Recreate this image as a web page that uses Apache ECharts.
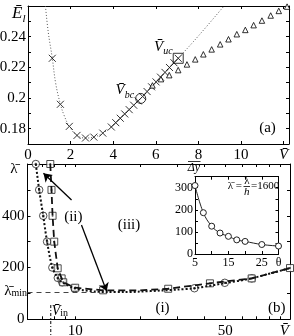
<!DOCTYPE html>
<html><head><meta charset="utf-8">
<script src="https://cdn.jsdelivr.net/npm/echarts@6/dist/echarts.min.js"></script>
<style>html,body{margin:0;padding:0;background:#fff}#c{width:294px;height:336px}</style>
</head><body><div id="c"></div>
<script>
const FONT = 'Liberation Serif';
// ---------- Panel (a) ----------
const curveV = [0.82, 0.95, 1.14, 1.3, 1.52, 1.7, 1.94, 2.3, 2.7, 3.09, 3.51, 3.91, 4.5, 5.29, 6.0, 7.05, 8.0, 9.2];
const curveE = [0.26, 0.243, 0.226, 0.2095, 0.196, 0.1885, 0.1815, 0.1756, 0.1739, 0.1745, 0.1771, 0.1811, 0.1893, 0.1997, 0.2102, 0.2259, 0.2405, 0.26];
const crossV = [1.14, 1.52, 1.94, 2.30, 2.70, 3.09, 3.51, 3.91, 4.12, 4.33, 4.54, 4.75, 4.96, 5.17, 5.38, 5.59, 5.80, 6.01, 6.22, 6.43, 6.64, 6.85, 7.05];
const crossE = [0.2259, 0.1959, 0.1815, 0.1756, 0.1739, 0.1745, 0.1771, 0.1811, 0.1839, 0.1868, 0.1896, 0.1924, 0.1953, 0.1981, 0.2010, 0.2042, 0.2073, 0.2105, 0.2136, 0.2167, 0.2199, 0.2230, 0.2259];
const triV = [5.84, 6.24, 6.63, 7.05, 7.46, 7.85, 8.23, 8.62, 9.02, 9.41, 9.8, 10.2, 10.59, 10.98, 11.39, 11.77, 12.16];
const triE = [0.2082, 0.2123, 0.2149, 0.2182, 0.2219, 0.2252, 0.2285, 0.2317, 0.235, 0.2383, 0.2416, 0.2444, 0.2475, 0.2505, 0.2538, 0.2568, 0.2596];
const bcPoint = [5.29, 0.1997];
const ucPoint = [7.05, 0.2259];
// ---------- Panel (b) ----------
const circLineV = [6.56, 6.8, 7.1, 7.4, 7.83, 8.3, 8.71, 9.3, 9.93, 11, 12.5, 14, 17, 20, 25, 30, 36, 50, 66, 100];
const circLineL = [600, 500, 400, 300, 200, 160, 143, 130, 120, 112, 107, 105, 105, 107, 111, 115, 120, 140, 158, 198];
const circV = [6.56, 6.8, 7.1, 7.4, 7.83, 8.3, 8.71, 9.93, 35.9, 49.7, 66.4];
const circL = [600, 500, 400, 300, 200, 160, 143, 120, 120, 141, 158];
const sqLineV = [7.66, 7.76, 7.85, 7.99, 8.29, 8.65, 8.8, 10.0, 13.5, 20, 27.1, 42.4, 66.3, 100];
const sqLineL = [600, 500, 400, 300, 197, 158, 143, 122, 112, 112, 118, 139, 158, 198];
const sqV = [7.66, 7.76, 7.85, 7.99, 8.29, 8.65, 8.8, 10.0, 13.5, 27.1, 42.4, 66.3, 100];
const sqL = [600, 500, 400, 300, 197, 158, 143, 122, 112, 118, 139, 158, 198];
const lambdaMin = 105;
const lambdaMinSpan = [6, 13];
const vIn = 7.7;
const arrow1 = [[9.62, 461], [7.12, 564]];
const arrow2 = [[10.7, 364], [14.0, 109]];
const bXTickValues = [7, 8, 9, 10, 20, 30, 40, 50, 60, 70, 80, 90];
const bXLabelValues = [10, 50, 94];
const bYLabels = [0, 200, 400];
// ---------- Inset ----------
const thetaV = [5, 7.5, 10, 12.5, 15, 17.5, 20, 25, 30];
const dyV = [310, 187, 126, 95, 80, 64, 57, 43, 36];

const zip = (a, b) => a.map((v, i) => [v, b[i]]);
const black = '#000';
function ax(extra) {
  const base = {
    axisLine: { show: true, onZero: false, lineStyle: { color: black, width: 1 } },
    axisTick: { show: true, inside: true, length: 3, lineStyle: { color: black } },
    splitLine: { show: false },
    axisLabel: { color: black, fontFamily: FONT, fontSize: 15 }
  };
  const o = Object.assign({}, base, extra);
  o.axisTick = Object.assign({}, base.axisTick, extra.axisTick || {});
  o.axisLabel = Object.assign({}, base.axisLabel, extra.axisLabel || {});
  return o;
}
const vbarRich = { v: { fontStyle: 'italic', fontFamily: FONT, fontSize: 15, color: black } };

const option = {
  animation: false,
  backgroundColor: '#fff',
  grid: [
    { left: 28, top: 6, right: 5, bottom: 192, outerBoundsMode: 'none', containLabel: false },
    { left: 27.5, top: 164, right: 4, bottom: 16.7, outerBoundsMode: 'none', containLabel: false },
    { left: 195, top: 176.7, right: 15.5, bottom: 82, outerBoundsMode: 'none', containLabel: false, show: true, backgroundColor: '#fff', borderWidth: 0, z: 5 }
  ],
  xAxis: [
    ax({ gridIndex: 0, type: 'value', min: 0, max: 12.25, interval: 2, position: 'bottom',
      axisLabel: { margin: 4, rich: vbarRich, showMaxLabel: true,
        formatter: v => v === 12 ? '{v|V\u0304}' : (v % 2 === 0 && v <= 10 ? String(v) : '') } }),
    ax({ gridIndex: 0, type: 'value', min: 0, max: 12.25, interval: 2, position: 'top', axisLabel: { show: false } }),
    ax({ gridIndex: 1, type: 'log', logBase: 10, min: 6, max: 100, position: 'bottom',
      axisTick: { customValues: bXTickValues },
      axisLabel: { margin: 4, rich: vbarRich, customValues: bXLabelValues,
        formatter: v => Math.abs(v - 10) < 0.01 ? '10' : (Math.abs(v - 50) < 0.01 ? '50' : '{v|V\u0304}') } }),
    ax({ gridIndex: 1, type: 'log', logBase: 10, min: 6, max: 100, position: 'top',
      axisTick: { customValues: bXTickValues }, axisLabel: { show: false } }),
    ax({ gridIndex: 2, type: 'value', min: 5, max: 30, interval: 5, position: 'bottom', z: 6,
      axisLabel: { fontSize: 12, margin: 3,
        formatter: v => (v === 5 || v === 15 || v === 25) ? String(v) : (v === 30 ? '\u03b8' : '') } }),
    ax({ gridIndex: 2, type: 'value', min: 5, max: 30, interval: 5, position: 'top', z: 6, axisLabel: { show: false } })
  ],
  yAxis: [
    ax({ gridIndex: 0, type: 'value', min: 0.17, max: 0.26, interval: 0.01, position: 'left',
      axisLabel: { margin: 2, formatter: v => { const k = Math.round(v * 100); return (k % 2 === 0 && k >= 18 && k <= 24) ? String(k / 100) : ''; } } }),
    ax({ gridIndex: 0, type: 'value', min: 0.17, max: 0.26, interval: 0.01, position: 'right', axisLabel: { show: false } }),
    ax({ gridIndex: 1, type: 'value', min: 0, max: 600, interval: 100, position: 'left',
      axisLabel: { margin: 3, formatter: v => bYLabels.includes(v) ? String(v) : '' } }),
    ax({ gridIndex: 1, type: 'value', min: 0, max: 600, interval: 100, position: 'right', axisLabel: { show: false } }),
    ax({ gridIndex: 2, type: 'value', min: 0, max: 350, interval: 50, position: 'left', z: 6,
      axisLabel: { fontSize: 12, margin: 2, formatter: v => (v % 100 === 0 && v <= 300) ? String(v) : '' } }),
    ax({ gridIndex: 2, type: 'value', min: 0, max: 350, interval: 50, position: 'right', z: 6, axisLabel: { show: false } })
  ],
  series: [
    { type: 'line', xAxisIndex: 0, yAxisIndex: 0, data: zip(curveV, curveE), smooth: 0.4, showSymbol: false,
      lineStyle: { color: '#555', width: 1, type: [1, 2] }, silent: true },
    { type: 'scatter', xAxisIndex: 0, yAxisIndex: 0, data: zip(crossV, crossE), symbol: 'path://M0,0L10,10M10,0L0,10', symbolSize: 7,
      itemStyle: { color: 'rgba(0,0,0,0)', borderColor: black, borderWidth: 1 }, silent: true },
    { type: 'scatter', xAxisIndex: 0, yAxisIndex: 0, data: zip(triV, triE), symbol: 'triangle', symbolSize: 5.5,
      itemStyle: { color: '#fff', borderColor: black, borderWidth: 1 }, silent: true },
    { type: 'scatter', xAxisIndex: 0, yAxisIndex: 0, data: [bcPoint], symbol: 'circle', symbolSize: 10, z: 3,
      itemStyle: { color: 'rgba(0,0,0,0)', borderColor: black, borderWidth: 1 }, silent: true },
    { type: 'scatter', xAxisIndex: 0, yAxisIndex: 0, data: [ucPoint], symbol: 'rect', symbolSize: 10, z: 3,
      itemStyle: { color: 'rgba(0,0,0,0)', borderColor: black, borderWidth: 1 }, silent: true },
    { type: 'line', xAxisIndex: 2, yAxisIndex: 2, data: zip(circLineV, circLineL), smooth: 0.3, showSymbol: false,
      lineStyle: { color: '#111', width: 2, type: [2, 2] }, silent: true,
      markLine: { silent: true, animation: false, label: { show: false }, symbolSize: 8,
        lineStyle: { color: black, width: 1.3, type: 'solid' },
        data: [
          [{ coord: arrow1[0], symbol: 'none' }, { coord: arrow1[1], symbol: 'arrow' }],
          [{ coord: arrow2[0], symbol: 'none' }, { coord: arrow2[1], symbol: 'arrow' }],
          [{ coord: [lambdaMinSpan[0], lambdaMin], symbol: 'none', lineStyle: { color: '#444', width: 1, type: [5, 4] } },
           { coord: [lambdaMinSpan[1], lambdaMin], symbol: 'none' }]
        ] } },
    { type: 'scatter', xAxisIndex: 2, yAxisIndex: 2, data: zip(circV, circL), symbol: 'circle', symbolSize: 7.5,
      itemStyle: { color: '#fff', borderColor: '#222', borderWidth: 1 }, silent: true },
    { type: 'scatter', xAxisIndex: 2, yAxisIndex: 2, data: zip(circV, circL), symbol: 'circle', symbolSize: 2.5,
      itemStyle: { color: '#222' }, silent: true },
    { type: 'line', xAxisIndex: 2, yAxisIndex: 2, data: zip(sqLineV, sqLineL), showSymbol: false,
      lineStyle: { color: '#111', width: 1.8, type: [7, 4] }, silent: true },
    { type: 'scatter', xAxisIndex: 2, yAxisIndex: 2, data: zip(sqV, sqL), symbol: 'rect', symbolSize: 7,
      itemStyle: { color: '#fff', borderColor: '#222', borderWidth: 1 }, silent: true },
    { type: 'scatter', xAxisIndex: 2, yAxisIndex: 2, data: zip(sqV, sqL), symbol: 'circle', symbolSize: 2,
      itemStyle: { color: '#222' }, silent: true },
    { type: 'line', xAxisIndex: 4, yAxisIndex: 4, data: zip(thetaV, dyV), smooth: 0.4, symbol: 'circle', symbolSize: 6, z: 7,
      lineStyle: { color: '#222', width: 1 }, itemStyle: { color: '#fff', borderColor: '#222', borderWidth: 1 }, silent: true }
  ]
};

const chart = echarts.init(document.getElementById('c'), null, { renderer: 'canvas' });
chart.setOption(option);

const mctx = document.createElement('canvas').getContext('2d');
function tw(t, size, italic) { mctx.font = (italic ? 'italic ' : '') + size + 'px "' + FONT + '"'; return mctx.measureText(t).width; }
function T(x, y, text, size, opt) {
  opt = opt || {};
  return { type: 'text', x: x, y: y, silent: true, z: 100,
    style: { text: text, fontSize: size, fontFamily: FONT, fontStyle: opt.italic ? 'italic' : 'normal', fill: black,
      align: opt.align || 'center', verticalAlign: 'middle' } };
}
function S(x, y, main, sub, size, subSize, anchor, mainItalic, subItalic, subDy) {
  const w1 = tw(main.replace('\u0304', ''), size, mainItalic), w2 = tw(sub, subSize, subItalic);
  const x0 = anchor === 'right' ? x - w1 - w2 : (anchor === 'center' ? x - (w1 + w2) / 2 : x);
  return [T(x0, y, main, size, { italic: mainItalic, align: 'left' }),
          T(x0 + w1, y + subDy, sub, subSize, { italic: subItalic, align: 'left' })];
}
const P = (si, x, y) => chart.convertToPixel({ seriesIndex: si }, [x, y]);
const pbc = P(3, bcPoint[0], bcPoint[1]);
const puc = P(4, ucPoint[0], ucPoint[1]);
const pmin = P(5, 6, lambdaMin);
const pin = P(5, vIn, 1);
const g = [];
g.push(...S(12, 14, 'E\u0304', 'l', 17, 11, 'left', true, true, 5));
g.push(...S(pbc[0] - 6.5, pbc[1] - 8, 'V\u0304', 'bc', 15, 10, 'right', true, true, 4.5));
g.push(...S(puc[0] - 5.5, puc[1] - 11.5, 'V\u0304', 'uc', 15, 10, 'right', true, true, 4.5));
g.push(T(267.5, 128.3, '(a)', 15));
g.push(T(14, 169, '\u03bb\u0304', 15));
g.push(...S(27, pmin[1] - 1.5, '\u03bb\u0304', 'min', 15, 10, 'right', false, false, 3));
g.push({ type: 'line', silent: true, z: 100, shape: { x1: pin[0], y1: pin[1] - 14, x2: pin[0], y2: 336 },
  style: { stroke: black, lineWidth: 1, lineDash: [3, 2, 1, 2] } });
g.push(...S(pin[0] + 1, pin[1] - 8, 'V\u0304', 'in', 14, 10, 'left', true, false, 2));
g.push(T(73.3, 216.7, '(ii)', 15));
g.push(T(129, 225, '(iii)', 15));
g.push(T(162.5, 308.3, '(i)', 15));
g.push(T(276.7, 308.3, '(b)', 15));
// inset annotations
g.push(T(194, 167.5, '\u0394y', 12, { italic: true }));
g.push({ type: 'line', silent: true, z: 100, shape: { x1: 188, y1: 161.5, x2: 200.5, y2: 161.5 }, style: { stroke: black, lineWidth: 0.8 } });
g.push(T(242, 186.5, '\u03bb\u0304 =', 11, { align: 'right' }));
g.push(T(246.8, 181, '\u03bb', 11));
g.push(T(246.8, 192.5, 'h', 11, { italic: true }));
g.push({ type: 'line', silent: true, z: 100, shape: { x1: 243.5, y1: 186.5, x2: 250, y2: 186.5 }, style: { stroke: black, lineWidth: 0.8 } });
g.push(T(251, 186.5, '=1600', 11, { align: 'left' }));
chart.setOption({ graphic: g });
</script>
</body></html>
